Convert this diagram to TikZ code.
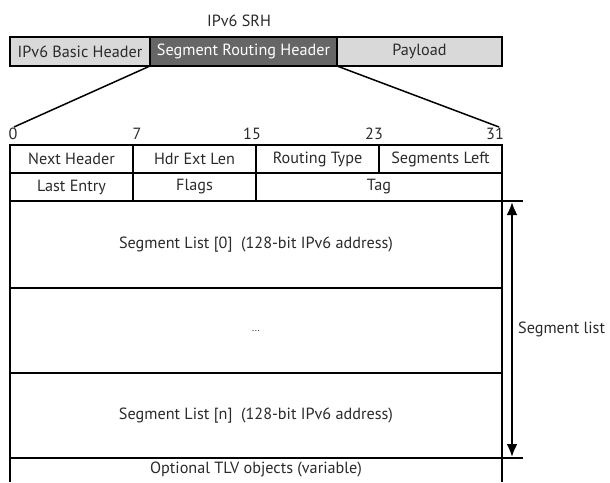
\documentclass[tikz,border=0pt]{standalone}
\usepackage{fontspec}
\setmainfont{PT Sans}
\usetikzlibrary{arrows.meta}
\definecolor{txt}{HTML}{2A2A2A}
\definecolor{lightfill}{HTML}{D9D9D9}
\definecolor{darkfill}{HTML}{666666}
\begin{document}
\begin{tikzpicture}[x=1pt,y=-1pt,
  every node/.style={font=\fontsize{16.2}{18}\selectfont, text=txt},
  cell/.style={draw=black, line width=1.8pt, inner sep=0pt, outer sep=0pt, anchor=north west},
  barcell/.style={cell, line width=2.2pt},
  num/.style={inner sep=0pt, anchor=center},
  conn/.style={line width=1.5pt, draw=black},
  dim/.style={line width=2.2pt, {Latex[length=13pt,width=11pt]}-{Latex[length=13pt,width=11pt]}}
]
\useasboundingbox (0,0) rectangle (610,482);
% title
\node[num] (title) at (239,21) {IPv6 SRH};
% top bar
\node[barcell, fill=lightfill, minimum width=140pt, minimum height=29pt] (basic) at (10,37) {IPv6 Basic Header};
\node[barcell, fill=darkfill, text=white, minimum width=187pt, minimum height=29pt] (srh) at (150,37) {Segment Routing Header};
\node[barcell, fill=lightfill, minimum width=165pt, minimum height=29pt] (pay) at (337,37) {Payload};
% bit numbers
\node[num] (b0) at (13,134) {0};
\node[num] (b7) at (137,134) {7};
\node[num] (b15) at (252,134) {15};
\node[num] (b23) at (374,134) {23};
\node[num] (b31) at (495,134) {31};
\coordinate (fl) at (14,127);
\coordinate (fr) at (499,127);
\draw[conn] (srh.south west) -- (fl);
\draw[conn] (srh.south east) -- (fr);
% row 1
\node[cell, minimum width=123pt, minimum height=28pt] (nh) at (10,145) {Next Header};
\node[cell, minimum width=123pt, minimum height=28pt] (hel) at (133,145) {Hdr Ext Len};
\node[cell, minimum width=123pt, minimum height=28pt] (rt) at (256,145) {Routing Type};
\node[cell, minimum width=123pt, minimum height=28pt] (sl) at (379,145) {Segments Left};
% row 2
\node[cell, minimum width=123pt, minimum height=28pt] (le) at (10,173) {Last Entry};
\node[cell, minimum width=123pt, minimum height=28pt] (fg) at (133,173) {Flags};
\node[cell, minimum width=246pt, minimum height=28pt] (tag) at (256,173) {Tag};
% segment list rows
\node[cell, minimum width=492pt, minimum height=87pt] (s0) at (10,201) {Segment List [0]\ \ (128-bit IPv6 address)};
\node[cell, minimum width=492pt, minimum height=85pt] (sm) at (10,288) {\raisebox{-2pt}{\fontsize{10}{10}\selectfont ...}};
\node[cell, minimum width=492pt, minimum height=85pt] (sn) at (10,373) {Segment List [n]\ \ (128-bit IPv6 address)};
% TLV row (open at bottom)
\node[inner sep=0pt, anchor=center] (tlv) at (256,470) {Optional TLV objects (variable)};
\coordinate (tlvl) at (10,482);
\coordinate (tlvr) at (502,482);
\draw[line width=1.8pt] (sn.south west) -- (tlvl);
\draw[line width=1.8pt] (sn.south east) -- (tlvr);
\draw[line width=2.4pt] (sn.south west) -- (sn.south east);
% segment list dimension
\coordinate (et) at (523,201);
\coordinate (eb) at (523,458);
\draw[line width=1.8pt] (s0.north east) -- (et);
\draw[line width=1.8pt] (sn.south east) -- (eb);
\coordinate (at) at (512,202);
\coordinate (ab) at (512,457);
\draw[dim] (at) -- (ab);
\node[anchor=west, inner sep=0pt] (sll) at (518,329) {Segment list};
\end{tikzpicture}
\end{document}
